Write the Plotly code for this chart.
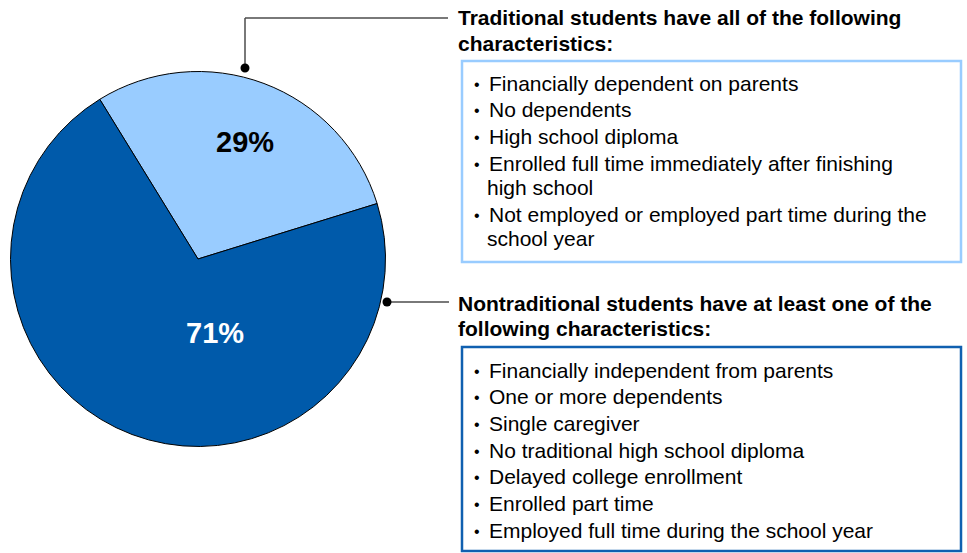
import plotly.graph_objects as go

# ---- data ----
groups = ["Traditional", "Nontraditional"]
shares = [29, 71]
colors = ["#99CCFF", "#005AAA"]
label_colors = ["#000000", "#FFFFFF"]

trad_title = "Traditional students have all of the following<br>characteristics:"
trad_items = [
    "Financially dependent on parents",
    "No dependents",
    "High school diploma",
    "Enrolled full time immediately after finishing<br>high school",
    "Not employed or employed part time during the<br>school year",
]
nontrad_title = "Nontraditional students have at least one of the<br>following characteristics:"
nontrad_items = [
    "Financially independent from parents",
    "One or more dependents",
    "Single caregiver",
    "No traditional high school diploma",
    "Delayed college enrollment",
    "Enrolled part time",
    "Employed full time during the school year",
]

W, H = 967, 553
FONT = "Liberation Sans, Arial, sans-serif"


def px(x):
    return x / W


def py(y):
    return 1 - y / H


# pie geometry (pixels)
cx, cy, R = 198, 259, 187.5

fig = go.Figure()
fig.add_trace(go.Pie(
    labels=groups,
    values=shares,
    sort=False,
    direction="clockwise",
    rotation=-31.6,
    marker=dict(colors=colors, line=dict(color="#000000", width=1)),
    textinfo="none",
    hoverinfo="skip",
    domain=dict(x=[px(cx - R), px(cx + R)], y=[py(cy + R), py(cy - R)]),
    showlegend=False,
))

annotations = []
# pie percentage labels
label_pos = [(245, 142), (215, 333)]
for v, (lx, ly), c in zip(shares, label_pos, label_colors):
    annotations.append(dict(
        x=px(lx), y=py(ly), xref="paper", yref="paper", showarrow=False,
        text=f"<b>{v}%</b>", font=dict(family=FONT, size=29, color=c),
        xanchor="center", yanchor="middle",
    ))

TITLE_SIZE = 21
ITEM_SIZE = 21
BULLET_SIZE = 16
TITLE_LH = 25
WRAP_LH = 24.5


def txt(x, y, s, size, anchor="left"):
    annotations.append(dict(
        x=px(x), y=py(y), xref="paper", yref="paper", showarrow=False,
        text=s, font=dict(family=FONT, size=size, color="#000000"),
        xanchor=anchor, yanchor="middle", align="left",
    ))


def add_block(title, title_y, items, first_y, gap):
    for k, line in enumerate(title.split("<br>")):
        txt(456, title_y + k * TITLE_LH, f"<b>{line}</b>", TITLE_SIZE)
    y = first_y
    for it in items:
        txt(477, y + 1, "•", BULLET_SIZE, anchor="center")
        lines = it.split("<br>")
        for k, line in enumerate(lines):
            txt(487 if k == 0 else 485, y + k * WRAP_LH, line, ITEM_SIZE)
        y += (len(lines) - 1) * WRAP_LH + gap


add_block(trad_title, 18, trad_items, 83, 26.7)
add_block(nontrad_title, 303, nontrad_items, 370, 26.67)

shapes = []
# boxes
shapes.append(dict(type="rect", xref="paper", yref="paper",
                   x0=px(462), x1=px(961), y0=py(61), y1=py(262),
                   line=dict(color="#99CCFF", width=2.5), fillcolor="rgba(0,0,0,0)"))
shapes.append(dict(type="rect", xref="paper", yref="paper",
                   x0=px(462), x1=px(961), y0=py(347), y1=py(551),
                   line=dict(color="#1060B0", width=2.5), fillcolor="rgba(0,0,0,0)"))
# callout lines
line_style = dict(color="#4D4D4D", width=1.5)
shapes.append(dict(type="line", xref="paper", yref="paper",
                   x0=px(245), x1=px(245), y0=py(68), y1=py(18), line=line_style))
shapes.append(dict(type="line", xref="paper", yref="paper",
                   x0=px(245), x1=px(448), y0=py(18), y1=py(18), line=line_style))
shapes.append(dict(type="line", xref="paper", yref="paper",
                   x0=px(387), x1=px(449), y0=py(302), y1=py(302), line=line_style))
# dots
for dx, dy in [(245, 68), (387, 302)]:
    r = 4.5
    shapes.append(dict(type="circle", xref="paper", yref="paper",
                       x0=px(dx - r), x1=px(dx + r), y0=py(dy + r), y1=py(dy - r),
                       fillcolor="#000000", line=dict(color="#000000", width=0)))

fig.update_layout(
    width=W, height=H,
    margin=dict(l=0, r=0, t=0, b=0),
    paper_bgcolor="white", plot_bgcolor="white",
    annotations=annotations, shapes=shapes,
    hovermode=False,
)

fig.write_html(
    "out.html",
    config={"displayModeBar": False},
    post_script="document.body.style.margin='0';document.body.style.overflow='hidden';",
)
